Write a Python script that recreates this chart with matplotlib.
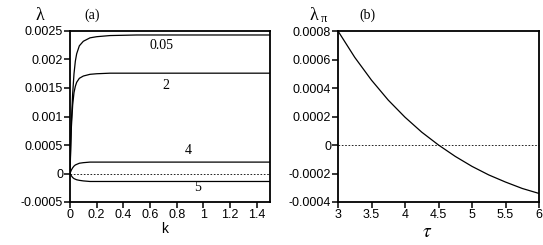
import matplotlib
matplotlib.use("Agg")
import matplotlib.pyplot as plt

plt.rcParams["mathtext.fontset"] = "stix"

# panel (a): growth rate vs k for several parameter values
k = [0, 0.005, 0.01, 0.02, 0.03, 0.04, 0.05, 0.07, 0.1, 0.15, 0.2, 0.3, 0.5, 0.8, 1.0, 1.5]
lam_005 = [0, 0.0005, 0.0009, 0.0014, 0.00175, 0.00197, 0.0021, 0.00224, 0.00232, 0.00238, 0.0024, 0.00242, 0.00243, 0.00243, 0.00243, 0.00243]
lam_2 = [0, 0.0004, 0.0008, 0.0012, 0.00142, 0.00153, 0.0016, 0.00167, 0.00171, 0.00174, 0.00175, 0.00176, 0.00176, 0.00176, 0.00176, 0.00176]
lam_4 = [0, 0.00003, 0.00006, 0.0001, 0.00013, 0.00015, 0.00016, 0.00018, 0.00019, 0.0002, 0.0002, 0.0002, 0.0002, 0.0002, 0.0002, 0.0002]
lam_5 = [0, -0.00002, -0.00004, -0.00007, -0.00009, -0.0001, -0.00011, -0.00012, -0.00013, -0.00014, -0.00014, -0.00014, -0.00014, -0.00014, -0.00014, -0.00014]
curve_labels = ["0.05", "2", "4", "5"]
label_pos = [(0.69, 0.00225), (0.72, 0.00155), (0.885, 0.00041), (0.96, -0.00025)]

# panel (b): lambda_pi vs tau
tau = [3.0, 3.25, 3.5, 3.75, 4.0, 4.25, 4.5, 4.75, 5.0, 5.25, 5.5, 5.75, 6.0]
lam_pi = [0.0008, 0.000615, 0.000455, 0.000315, 0.000195, 0.00009, 0.0, -0.00008, -0.00015, -0.00021, -0.00026, -0.000305, -0.00034]

SANS = ["Liberation Sans", "DejaVu Sans"]
SERIF = ["Liberation Serif", "DejaVu Serif"]

fig = plt.figure(figsize=(5.43, 2.45), dpi=100)
ax1 = fig.add_axes([70/543, 1-202/245, 200/543, 171/245])
ax2 = fig.add_axes([338/543, 1-202/245, 201/543, 171/245])

for ax in (ax1, ax2):
    for s in ax.spines.values():
        s.set_linewidth(1.3)
    ax.tick_params(direction="out", length=4, width=1.1, labelsize=9, pad=1,
                   top=False, right=False)

for y in (lam_005, lam_2, lam_4, lam_5):
    ax1.plot(k, y, color="black", lw=0.9)
ax1.axhline(0, color="black", ls=(0, (2, 2)), lw=0.6)
ax1.set_xlim(0, 1.5)
ax1.set_ylim(-0.0005, 0.0025)
ax1.set_xticks([0, 0.2, 0.4, 0.6, 0.8, 1, 1.2, 1.4])
ax1.set_xticklabels(["0", "0.2", "0.4", "0.6", "0.8", "1", "1.2", "1.4"], family=SANS)
ax1.set_yticks([-0.0005, 0, 0.0005, 0.001, 0.0015, 0.002, 0.0025])
ax1.set_yticklabels(["-0.0005", "0", "0.0005", "0.001", "0.0015", "0.002", "0.0025"], family=SANS)
for t, (x, y) in zip(curve_labels, label_pos):
    ax1.text(x, y, t, family=SERIF, fontsize=10, ha="center", va="center")

ax2.plot(tau, lam_pi, color="black", lw=0.9)
ax2.axhline(0, color="black", ls=(0, (2, 2)), lw=0.6)
ax2.set_xlim(3, 6)
ax2.set_ylim(-0.0004, 0.0008)
ax2.set_xticks([3, 3.5, 4, 4.5, 5, 5.5, 6])
ax2.set_xticklabels(["3", "3.5", "4", "4.5", "5", "5.5", "6"], family=SANS)
ax2.set_yticks([-0.0004, -0.0002, 0, 0.0002, 0.0004, 0.0006, 0.0008])
ax2.set_yticklabels(["-0.0004", "-0.0002", "0", "0.0002", "0.0004", "0.0006", "0.0008"], family=SANS)

# axis labels and panel tags, placed in figure pixels
def ftext(x, y, s, **kw):
    fig.text(x/543, 1-y/245, s, ha="center", va="center", **kw)

ftext(40, 15, "λ", family=SERIF, fontsize=13)
ftext(92, 15, "(a)", family=SERIF, fontsize=10)
ftext(165, 229, "k", family=SANS, fontsize=10)
ftext(314, 15, "λ", family=SERIF, fontsize=13)
ftext(324, 19, "π", family=SERIF, fontsize=9)
ftext(367, 15, "(b)", family=SERIF, fontsize=10)
ftext(427, 231, r"$\tau$", fontsize=14)

fig.savefig("out.png", dpi=100)
